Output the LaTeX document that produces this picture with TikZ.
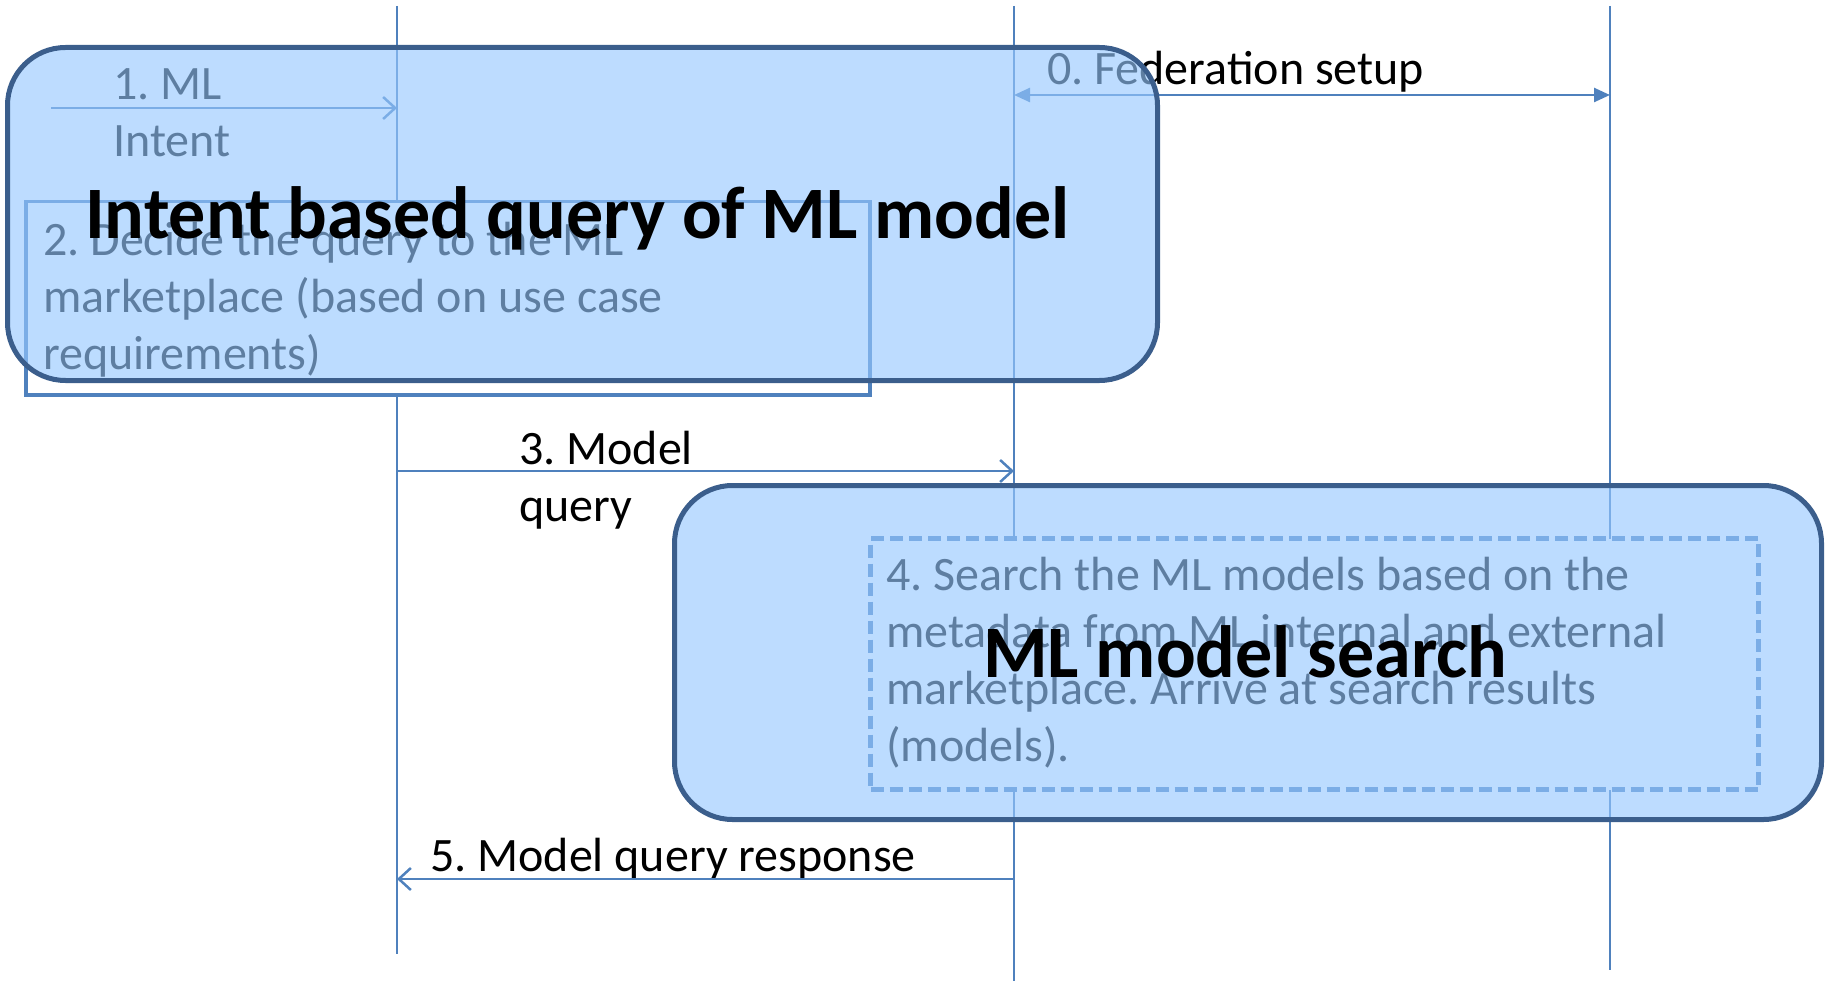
\documentclass[tikz,border=0pt]{standalone}
\usepackage{fontspec}
\setmainfont{Carlito}
\usetikzlibrary{arrows.meta}
\frenchspacing
\definecolor{life}{RGB}{79,129,189}
\definecolor{boxfill}{RGB}{150,200,255}
\definecolor{boxline}{RGB}{59,94,140}
\newcommand\mlines[1]{\vtop{\baselineskip=57pt\lineskiplimit=-100pt\halign{##\hfil\cr #1\crcr}}}
\tikzset{
  lifeline/.style={draw=life, line width=1.5pt},
  msg/.style={draw=life, line width=2.5pt, -{Straight Barb[length=12pt,width=22pt,line width=2.5pt]}},
  fedmsg/.style={draw=life, line width=2.5pt, {Triangle[length=16pt,width=14pt]}-{Triangle[length=16pt,width=14pt]}},
  procbox/.style={draw=life, fill=white, line width=3.5pt, inner sep=0pt, anchor=north west},
  procdash/.style={draw=life, fill=white, line width=5pt, dash pattern=on 13pt off 6pt, inner sep=0pt, anchor=north west},
  groupbox/.style={draw=boxline, line width=5pt, fill=boxfill, fill opacity=0.63, draw opacity=1, rounded corners=58pt, inner sep=0pt, anchor=north west},
  lbl/.style={inner sep=0pt, anchor=base west, font=\fontsize{48}{57}\selectfont},
  title/.style={inner sep=0pt, anchor=base west, font=\bfseries\fontsize{74}{80}\selectfont},
}
\begin{document}
\begin{tikzpicture}[x=1pt,y=-1pt]
\useasboundingbox (0,0) rectangle (1825,981);
% lifelines
\coordinate (l1t) at (397,6);   \coordinate (l1b) at (397,954);
\coordinate (l2t) at (1014,6);  \coordinate (l2b) at (1014,981);
\coordinate (l3t) at (1610,6);  \coordinate (l3b) at (1610,970);
\draw[lifeline] (l1t) -- (l1b);
\draw[lifeline] (l2t) -- (l2b);
\draw[lifeline] (l3t) -- (l3b);
% process boxes
\node[procbox, minimum width=844pt, minimum height=193pt] (p2) at (24,200) {};
\node[procdash, minimum width=888pt, minimum height=251pt] (p4) at (868,536) {};
% texts
\node[lbl] (t1) at (113,100) {\mlines{1. ML\cr Intent}};
\node[lbl] (t2) at (43,256) {\mlines{2. Decide the query to the ML\cr marketplace (based on use case\cr requirements)}};
\node[lbl] (t0) at (1047,85) {0. Federation setup};
\node[lbl] (t3) at (519,464) {\mlines{3. Model\cr query}};
\node[lbl] (t4) at (886,590) {\mlines{4. Search the ML models based on the\cr metadata from ML internal and external\cr marketplace. Arrive at search results\cr (models).}};
\node[lbl] (t5) at (430,871) {5. Model query response};
% messages
\coordinate (m1s) at (51,108);  \coordinate (m1e) at (397,108);
\coordinate (m0s) at (1014,95); \coordinate (m0e) at (1610,95);
\coordinate (m3s) at (397,471); \coordinate (m3e) at (1014,471);
\coordinate (m5s) at (1014,879);\coordinate (m5e) at (397,879);
\draw[msg] (m1s) -- (m1e);
\draw[fedmsg] (m0s) -- (m0e);
\draw[msg] (m3s) -- (m3e);
\draw[msg] (m5s) -- (m5e);
% group boxes
\node[groupbox, minimum width=1150pt, minimum height=333pt] (gA) at (5,45) {};
\node[groupbox, minimum width=1147pt, minimum height=334pt] (gB) at (672,483) {};
% titles
\node[title] (tA) at (85,239) {Intent based query of ML model};
\node[title] (tB) at (983,677) {ML model search};
\end{tikzpicture}
\end{document}
